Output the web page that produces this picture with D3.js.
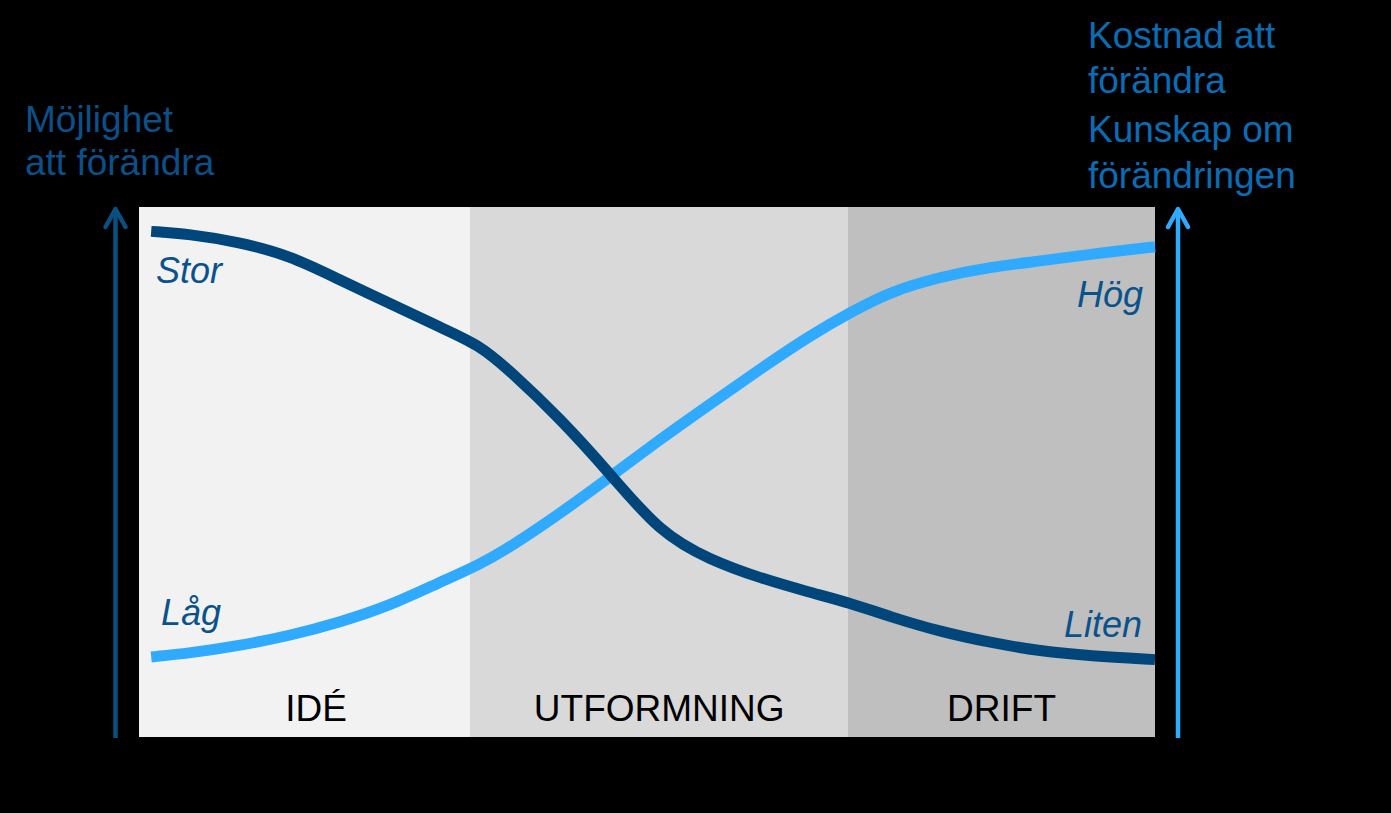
<!DOCTYPE html>
<html>
<head>
<meta charset="utf-8">
<script src="https://cdnjs.cloudflare.com/ajax/libs/d3/7.8.5/d3.min.js"></script>
<style>
  body { margin: 0; background: #000; }
  svg { display: block; }
  text { font-family: "Liberation Sans", Arial, sans-serif; }
</style>
</head>
<body>
<svg id="chart" width="1391" height="813"></svg>
<script>
// phases along the life cycle (x in 0..100)
var phases = ['IDÉ', 'UTFORMNING', 'DRIFT'];
var phaseStart = [0, 32.6, 69.8];
var phaseEnd = [32.6, 69.8, 100];
var phaseColors = ['#f2f2f2', '#d9d9d9', '#bfbfbf'];

// sample points
var tValues = [1.2, 4.9, 9.8, 14.8, 19.7, 24.6, 29.5, 33.5, 36.5, 41.4, 46.4, 51.3, 56.2, 61.1, 66.0, 70.0, 73.9, 78.8, 83.8, 88.7, 93.6, 100];
// möjlighet att förändra (falling)
var possibility = [95.4, 94.9, 93.4, 90.9, 86.3, 81.9, 77.4, 74.0, 69.1, 60.2, 49.6, 38.5, 33.4, 30.0, 27.3, 25.3, 22.7, 19.9, 17.8, 16.2, 15.3, 14.6];
// kostnad / kunskap (rising)
var cost = [15.1, 15.8, 17.2, 19.1, 21.6, 24.7, 29.1, 32.5, 35.8, 42.1, 49.1, 56.2, 62.8, 69.4, 75.7, 80.1, 84.0, 86.8, 88.7, 89.8, 91.1, 92.5];

var leftTitle = ['Möjlighet', 'att förändra'];
var rightTitle = ['Kostnad att', 'förändra', 'Kunskap om', 'förändringen'];

var darkBlue = '#00467a';
var lightBlue = '#30aaff';

var svg = d3.select('#chart');

var x = d3.scaleLinear().domain([0, 100]).range([139, 1155]);
var y = d3.scaleLinear().domain([0, 100]).range([737, 207]);

// background panels
svg.selectAll('rect.phase')
  .data(phases)
  .enter().append('rect')
  .attr('class', 'phase')
  .attr('x', function(d, i) { return Math.round(x(phaseStart[i])); })
  .attr('y', y(100))
  .attr('width', function(d, i) { return Math.round(x(phaseEnd[i])) - Math.round(x(phaseStart[i])); })
  .attr('height', y(0) - y(100))
  .attr('shape-rendering', 'crispEdges')
  .style('fill', function(d, i) { return phaseColors[i]; });

svg.selectAll('text.phase')
  .data(phases)
  .enter().append('text')
  .attr('class', 'phase')
  .attr('x', function(d, i) {
    // the idé text box is a bit wider than its panel
    return i == 0 ? x(phaseStart[i]) + 177 : (x(phaseStart[i]) + x(phaseEnd[i])) / 2;
  })
  .attr('y', 721)
  .attr('text-anchor', 'middle')
  .style('font-size', '37px')
  .style('fill', '#000')
  .text(function(d) { return d; });

// curves
var line = d3.line()
  .x(function(d) { return x(d.t); })
  .y(function(d) { return y(d.v); })
  .curve(d3.curveBasis);

function series(vals) {
  return tValues.map(function(t, i) { return {t: t, v: vals[i]}; });
}

svg.append('path')
  .datum(series(cost))
  .attr('d', line)
  .style('fill', 'none')
  .style('stroke', lightBlue)
  .style('stroke-width', 11);

svg.append('path')
  .datum(series(possibility))
  .attr('d', line)
  .style('fill', 'none')
  .style('stroke', darkBlue)
  .style('stroke-width', 11);

// curve labels
var labels = [
  {text: 'Stor', x: 156, y: 283, anchor: 'start'},
  {text: 'Låg', x: 161, y: 625, anchor: 'start'},
  {text: 'Hög', x: 1143, y: 307, anchor: 'end'},
  {text: 'Liten', x: 1142, y: 637, anchor: 'end'}
];
svg.selectAll('text.lbl')
  .data(labels)
  .enter().append('text')
  .attr('class', 'lbl')
  .attr('x', function(d) { return d.x; })
  .attr('y', function(d) { return d.y; })
  .attr('text-anchor', function(d) { return d.anchor; })
  .style('font-size', '36px')
  .style('font-style', 'italic')
  .style('fill', '#0a528c')
  .text(function(d) { return d.text; });

// arrows
function arrow(ax, color) {
  var g = svg.append('g')
    .style('stroke', color)
    .style('stroke-width', 4.5)
    .style('fill', 'none');
  g.append('line')
    .attr('x1', ax).attr('x2', ax)
    .attr('y1', 738).attr('y2', 209);
  g.append('path')
    .attr('d', 'M' + (ax - 10) + ',227 L' + ax + ',209 L' + (ax + 10) + ',227')
    .style('stroke-linecap', 'round')
    .style('stroke-linejoin', 'round');
}
arrow(115.5, '#0b4f80');
arrow(1178, lightBlue);

// axis titles
svg.selectAll('text.ltitle')
  .data(leftTitle)
  .enter().append('text')
  .attr('class', 'ltitle')
  .attr('x', 25)
  .attr('y', function(d, i) { return 132 + i * 43; })
  .style('font-size', '37px')
  .style('fill', '#0b5089')
  .text(function(d) { return d; });

var rightY = [48, 93, 142, 188];
svg.selectAll('text.rtitle')
  .data(rightTitle)
  .enter().append('text')
  .attr('class', 'rtitle')
  .attr('x', 1088)
  .attr('y', function(d, i) { return rightY[i]; })
  .style('font-size', '37px')
  .style('fill', '#0a6db4')
  .text(function(d) { return d; });
</script>
</body>
</html>
